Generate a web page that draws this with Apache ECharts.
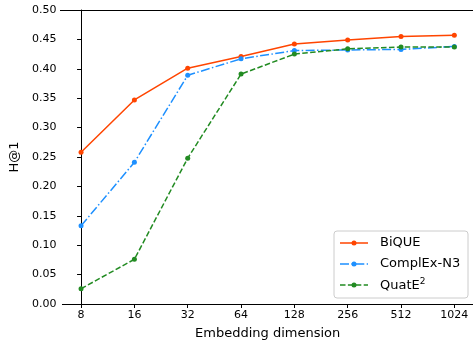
<!DOCTYPE html>
<html><head><meta charset="utf-8">
<script src="https://cdn.jsdelivr.net/npm/echarts@6/dist/echarts.min.js"></script>
<style>html,body{margin:0;padding:0;background:#fff}#c{width:473px;height:345px}</style>
</head><body><div id="c"></div>
<script>
const dims = ['8','16','32','64','128','256','512','1024'];
const bique = [0.258, 0.347, 0.401, 0.421, 0.442, 0.449, 0.455, 0.457];
const complex = [0.133, 0.241, 0.389, 0.417, 0.431, 0.432, 0.433, 0.438];
const quate = [0.026, 0.076, 0.248, 0.391, 0.425, 0.434, 0.437, 0.437];
const yTicks = [0,0.05,0.1,0.15,0.2,0.25,0.3,0.35,0.4,0.45,0.5];

const idx = dims.map((d,i)=>i);
const toData = arr => arr.map((v,i)=>[i,v]);
const font = 'DejaVu Sans';
const chart = echarts.init(document.getElementById('c'));
function mk(name, data, color, dash){
  return {name, type:'line', data: toData(data), symbol:'circle', symbolSize:5,
    lineStyle:{color, width:1.5, type:dash}, itemStyle:{color}, animation:false};
}
chart.setOption({
  animation:false,
  grid:{left:60, right:-3, top:10, bottom:40.5, containLabel:false},
  xAxis:{type:'value', min:-0.35, max:7.35,
    name:'Embedding dimension', nameLocation:'middle', nameGap:23,
    nameTextStyle:{fontFamily:font, fontSize:13, color:'#000'},
    axisLine:{show:true, lineStyle:{color:'#000', width:1}},
    axisTick:{show:true, customValues: idx, length:4, lineStyle:{color:'#000'}},
    axisLabel:{customValues: idx, formatter: v => dims[Math.round(v)], fontFamily:font, fontSize:11, color:'#000', margin:6},
    splitLine:{show:false}},
  yAxis:{type:'value', min:0, max:0.5, interval:0.05,
    name:'H@1', nameLocation:'middle', nameGap:36,
    nameTextStyle:{fontFamily:font, fontSize:13, color:'#000'},
    axisLine:{show:true, lineStyle:{color:'#000', width:1}},
    axisTick:{show:true, length:4, lineStyle:{color:'#000'}},
    axisLabel:{formatter: v => v.toFixed(2), fontFamily:font, fontSize:11, color:'#000', margin:6},
    splitLine:{show:false}},
  legend:{show:false},
  graphic:[
    {type:'line', shape:{x1:60, y1:10.5, x2:473, y2:10.5}, style:{stroke:'#000', lineWidth:1}, z:10},
    {type:'rect', shape:{x:334, y:231, width:134, height:67, r:3}, style:{fill:'rgba(255,255,255,0.8)', stroke:'#ccc', lineWidth:1}, z:20},
    {type:'group', z:21, children:[
      {type:'line', shape:{x1:340, y1:243, x2:368, y2:243}, style:{stroke:'#FF4500', lineWidth:1.5}, z:21},
      {type:'circle', shape:{cx:354, cy:243, r:2.5}, style:{fill:'#FF4500'}, z:21},
      {type:'text', x:380, y:243, style:{text:'BiQUE', fontFamily:font, fontSize:13, fill:'#000', verticalAlign:'middle'}, z:21},
      {type:'line', shape:{x1:340, y1:264, x2:368, y2:264}, style:{stroke:'#1E90FF', lineWidth:1.5, lineDash:[9,2.4,1.5,2.4]}, z:21},
      {type:'circle', shape:{cx:354, cy:264, r:2.5}, style:{fill:'#1E90FF'}, z:21},
      {type:'text', x:380, y:264, style:{text:'ComplEx-N3', fontFamily:font, fontSize:13, fill:'#000', verticalAlign:'middle'}, z:21},
      {type:'line', shape:{x1:340, y1:285, x2:368, y2:285}, style:{stroke:'#228B22', lineWidth:1.5, lineDash:[5.5,2.4]}, z:21},
      {type:'circle', shape:{cx:354, cy:285, r:2.5}, style:{fill:'#228B22'}, z:21},
      {type:'text', x:380, y:285, style:{text:'{a|QuatE}{s|2}', fontFamily:font, fontSize:13, fill:'#000', verticalAlign:'middle',
        rich:{a:{fontFamily:font, fontSize:13, fill:'#000', verticalAlign:'bottom'}, s:{fontFamily:font, fontSize:9, fill:'#000', verticalAlign:'top', padding:[0,0,6,0]}}}, z:21}
    ]}
  ],
  series:[
    mk('BiQUE', bique, '#FF4500', 'solid'),
    mk('ComplEx-N3', complex, '#1E90FF', [9,2.4,1.5,2.4]),
    mk('QuatE²', quate, '#228B22', [5.5,2.4])
  ]
});
</script></body></html>
